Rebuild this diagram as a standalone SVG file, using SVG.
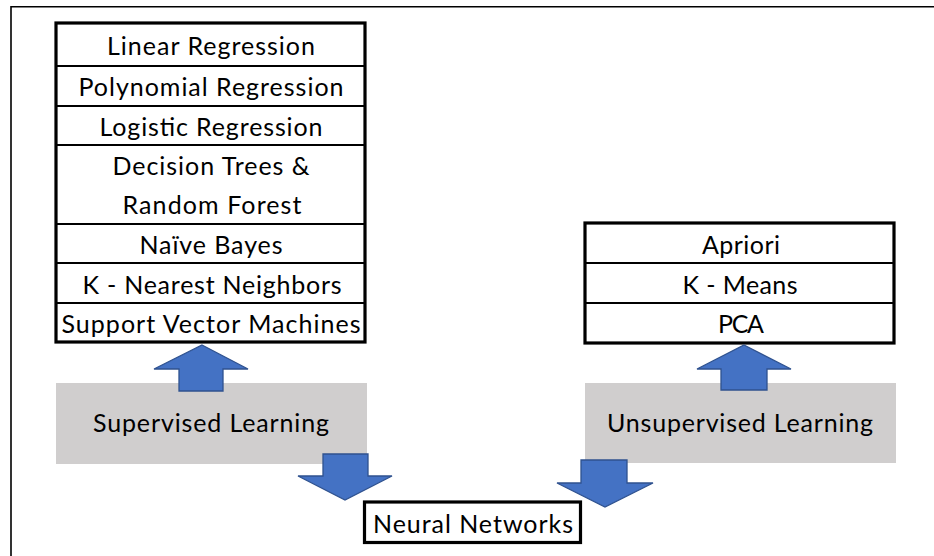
<svg xmlns="http://www.w3.org/2000/svg" width="934" height="556" viewBox="0 0 934 556">
  <style>
    .frame { fill: none; stroke: #000; stroke-width: 1.6; }
    .box { fill: #fff; stroke: #000; stroke-width: 3.2; }
    .sep { stroke: #000; stroke-width: 1.8; }
    .group { fill: #d0cece; stroke: none; }
    .lbl { font-family: Lato, "Liberation Sans", sans-serif; font-size: 25px; fill: #000; text-anchor: middle; }
    .arrow { fill: #4472c4; stroke: #2f528f; stroke-width: 1.3; stroke-linejoin: miter; }
  </style>
  <rect width="934" height="556" fill="#fff"/>

  <!-- outer frame (open on the right and bottom) -->
  <polyline class="frame" points="934,6.8 11,6.8 11,556"/>

  <!-- supervised algorithms -->
  <g id="supervised-algorithms">
    <rect class="box" x="56" y="23" width="309" height="319"/>
    <line class="sep" x1="56" y1="66" x2="365" y2="66"/>
    <line class="sep" x1="56" y1="106" x2="365" y2="106"/>
    <line class="sep" x1="56" y1="145" x2="365" y2="145"/>
    <line class="sep" x1="56" y1="224" x2="365" y2="224"/>
    <line class="sep" x1="56" y1="263" x2="365" y2="263"/>
    <line class="sep" x1="56" y1="303" x2="365" y2="303"/>
    <text class="lbl" x="211" y="55" textLength="208">Linear Regression</text>
    <text class="lbl" x="211" y="96" textLength="265">Polynomial Regression</text>
    <text class="lbl" x="211" y="136" textLength="223">Logistic Regression</text>
    <text class="lbl" x="211" y="175" textLength="197">Decision Trees &amp;</text>
    <text class="lbl" x="212" y="214" textLength="179">Random Forest</text>
    <text class="lbl" x="211" y="254" textLength="143">Naïve Bayes</text>
    <text class="lbl" x="212" y="294" textLength="259">K - Nearest Neighbors</text>
    <text class="lbl" x="211" y="333" textLength="299">Support Vector Machines</text>
  </g>

  <!-- unsupervised algorithms -->
  <g id="unsupervised-algorithms">
    <rect class="box" x="585" y="223" width="309" height="120"/>
    <line class="sep" x1="585" y1="263" x2="894" y2="263"/>
    <line class="sep" x1="585" y1="303" x2="894" y2="303"/>
    <text class="lbl" x="741" y="254" textLength="78">Apriori</text>
    <text class="lbl" x="740" y="294" textLength="115">K - Means</text>
    <text class="lbl" x="741" y="333" textLength="46">PCA</text>
  </g>

  <!-- learning categories -->
  <g id="supervised-learning">
    <rect class="group" x="56" y="383" width="311" height="81"/>
    <text class="lbl" x="211" y="432" textLength="236">Supervised Learning</text>
  </g>
  <g id="unsupervised-learning">
    <rect class="group" x="585" y="383" width="311" height="80"/>
    <text class="lbl" x="740" y="432" textLength="266">Unsupervised Learning</text>
  </g>

  <g id="neural-networks">
    <rect class="box" x="364.5" y="502" width="216" height="40.5"/>
    <text class="lbl" x="473" y="533" textLength="200">Neural Networks</text>
  </g>

  <!-- block arrows -->
  <g id="connectors">
    <polygon class="arrow" points="202,345 248,369 223,369 223,391 179,391 179,369 154,369"/>
    <polygon class="arrow" points="744,345 791,369 767,369 767,390 721,390 721,369 697,369"/>
    <polygon class="arrow" points="323,454 368,454 368,476 392,476 345,500 298,476 323,476"/>
    <polygon class="arrow" points="581,460 627,460 627,483 653,483 605,507 557,483 581,483"/>
  </g>
</svg>
